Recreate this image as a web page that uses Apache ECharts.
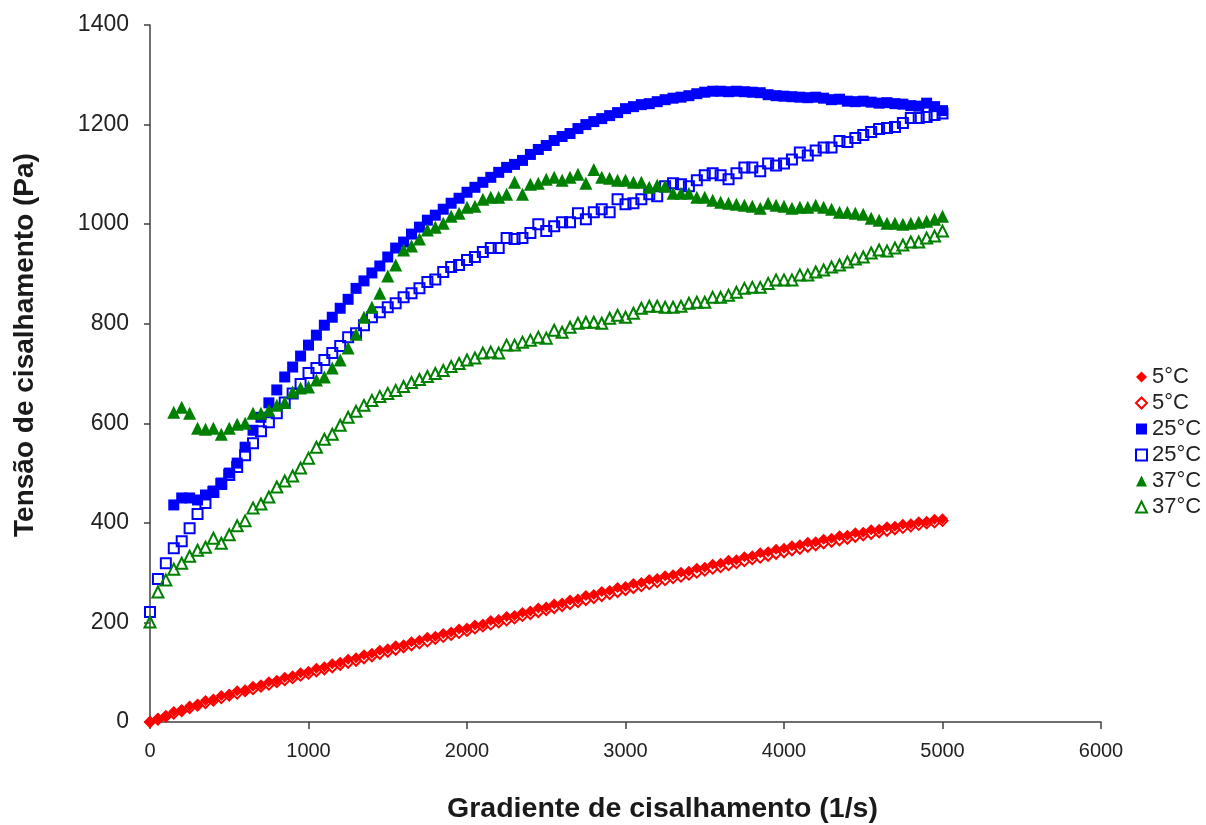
<!DOCTYPE html>
<html>
<head>
<meta charset="utf-8">
<script src="https://cdn.jsdelivr.net/npm/echarts@6/dist/echarts.min.js"></script>
<style>
  html, body { margin: 0; padding: 0; background: #ffffff; }
  #chart { width: 1206px; height: 825px; }
</style>
</head>
<body>
<div id="chart"></div>
<script>
// Shear rate grid (1/s), shared by every curve
const shearRate = [
  0, 50, 100, 150, 200, 250, 300, 350, 400, 450,
  500, 550, 600, 650, 700, 750, 800, 850, 900, 950,
  1000, 1050, 1100, 1150, 1200, 1250, 1300, 1350, 1400, 1450,
  1500, 1550, 1600, 1650, 1700, 1750, 1800, 1850, 1900, 1950,
  2000, 2050, 2100, 2150, 2200, 2250, 2300, 2350, 2400, 2450,
  2500, 2550, 2600, 2650, 2700, 2750, 2800, 2850, 2900, 2950,
  3000, 3050, 3100, 3150, 3200, 3250, 3300, 3350, 3400, 3450,
  3500, 3550, 3600, 3650, 3700, 3750, 3800, 3850, 3900, 3950,
  4000, 4050, 4100, 4150, 4200, 4250, 4300, 4350, 4400, 4450,
  4500, 4550, 4600, 4650, 4700, 4750, 4800, 4850, 4900, 4950,
  5000
];

// Shear stress (Pa) — 5 °C, filled markers
const stress5a = [
  0, 8, 13, 21, 25, 32, 36, 43, 46, 53,
  56, 63, 65, 72, 75, 81, 84, 90, 93, 99,
  102, 108, 111, 117, 120, 126, 129, 135, 138, 144,
  147, 153, 155, 161, 164, 170, 172, 178, 181, 187,
  189, 195, 197, 204, 206, 212, 214, 220, 223, 229,
  231, 237, 239, 245, 247, 254, 256, 262, 264, 270,
  272, 278, 280, 286, 288, 294, 296, 301, 303, 309,
  311, 317, 319, 325, 326, 332, 334, 340, 342, 347,
  349, 354, 356, 361, 362, 367, 369, 374, 375, 380,
  381, 386, 387, 392, 393, 397, 398, 402, 403, 407,
  408
];

// 5 °C, open markers
const stress5b = [
  0, 5, 11, 17, 22, 28, 33, 38, 43, 48,
  53, 57, 62, 66, 71, 75, 80, 84, 88, 93,
  97, 102, 106, 110, 115, 119, 123, 128, 132, 137,
  141, 145, 150, 154, 158, 162, 167, 171, 175, 179,
  183, 188, 192, 196, 200, 204, 208, 213, 217, 221,
  225, 229, 233, 237, 241, 245, 249, 253, 257, 261,
  265, 269, 273, 277, 281, 285, 289, 292, 296, 300,
  304, 308, 311, 315, 319, 323, 327, 330, 334, 338,
  341, 345, 348, 352, 355, 359, 362, 365, 368, 372,
  375, 378, 381, 384, 387, 390, 393, 396, 399, 401,
  404
];

// 25 °C, filled markers (no reading below 150 1/s)
const stress25a = [
  null, null, null, 436, 450, 450, 446, 456, 464, 480,
  500, 520, 552, 586, 612, 641, 667, 693, 713, 735,
  757, 777, 797, 813, 831, 849, 871, 886, 902, 916,
  934, 952, 964, 980, 994, 1008, 1018, 1030, 1042, 1052,
  1064, 1074, 1084, 1094, 1104, 1114, 1120, 1128, 1140, 1150,
  1158, 1168, 1176, 1182, 1192, 1200, 1206, 1212, 1218, 1224,
  1232, 1236, 1240, 1242, 1246, 1250, 1253, 1255, 1258, 1262,
  1265, 1267, 1267, 1266, 1267, 1266, 1265, 1264, 1260, 1258,
  1257, 1256, 1255, 1254, 1255, 1253, 1250, 1251, 1247, 1246,
  1247, 1245, 1243, 1244, 1242, 1241, 1238, 1237, 1243, 1236,
  1228
];

// 25 °C, open markers
const stress25b = [
  221, 287, 319, 349, 363, 389, 418, 440, 462, 478,
  496, 512, 536, 560, 584, 602, 620, 642, 660, 679,
  701, 711, 727, 741, 755, 773, 781, 797, 813, 823,
  833, 841, 853, 861, 871, 884, 889, 904, 914, 918,
  928, 934, 944, 952, 952, 972, 970, 972, 982, 1000,
  986, 996, 1004, 1004, 1022, 1010, 1024, 1030, 1024, 1050,
  1040, 1042, 1050, 1060, 1056, 1076, 1082, 1080, 1076, 1088,
  1098, 1102, 1098, 1090, 1102, 1114, 1114, 1106, 1122, 1118,
  1122, 1130, 1144, 1138, 1148, 1154, 1154, 1167, 1165, 1173,
  1179, 1185, 1191, 1193, 1195, 1203, 1213, 1213, 1215, 1219,
  1222
];

// 37 °C, filled markers (no reading below 150 1/s)
const stress37a = [
  null, null, null, 622, 632, 620, 590, 588, 590, 578,
  590, 598, 600, 620, 620, 626, 636, 642, 663, 671,
  673, 687, 693, 711, 727, 751, 779, 813, 833, 861,
  896, 918, 948, 956, 970, 988, 994, 1002, 1016, 1022,
  1034, 1036, 1050, 1054, 1054, 1060, 1084, 1060, 1080, 1082,
  1090, 1094, 1088, 1094, 1100, 1082, 1110, 1094, 1092, 1088,
  1088, 1084, 1084, 1074, 1078, 1076, 1062, 1062, 1062, 1054,
  1054, 1048, 1044, 1042, 1040, 1038, 1036, 1032, 1042, 1038,
  1036, 1032, 1034, 1034, 1038, 1034, 1030, 1024, 1024, 1022,
  1020, 1012, 1008, 1002, 1002, 1000, 1002, 1004, 1006, 1010,
  1016
];

// 37 °C, open markers
const stress37b = [
  201, 261, 285, 307, 319, 333, 345, 351, 369, 359,
  376, 394, 404, 430, 438, 452, 472, 484, 494, 510,
  530, 552, 568, 578, 596, 612, 624, 636, 646, 654,
  660, 666, 674, 682, 688, 694, 700, 706, 714, 720,
  727, 731, 741, 743, 741, 757, 757, 763, 767, 773,
  771, 787, 783, 793, 801, 803, 803, 801, 811, 817,
  813, 821, 831, 835, 835, 833, 833, 835, 841, 843,
  843, 853, 853, 857, 863, 871, 873, 873, 881, 888,
  888, 888, 898, 898, 904, 908, 914, 918, 924, 930,
  934, 942, 948, 946, 952, 958, 964, 964, 972, 976,
  986
];

// Axis ranges and ticks
const xTicks = [0, 1000, 2000, 3000, 4000, 5000, 6000];
const yTicks = [0, 200, 400, 600, 800, 1000, 1200, 1400];

// Legend labels (trailing space keeps the twin entries distinct)
const seriesNames = ['5°C', '5°C ', '25°C', '25°C ', '37°C', '37°C '];

const RED = '#ff0000', BLUE = '#0000ff', GREEN = '#008000';

function pairs(values) {
  const out = [];
  values.forEach((v, i) => { if (v !== null) out.push([shearRate[i], v]); });
  return out;
}

function filled(name, values, symbol, color, size) {
  return {
    name, type: 'scatter', data: pairs(values), symbol, symbolSize: size,
    itemStyle: { color: color, opacity: 1 },
    emphasis: { disabled: true }, animation: false
  };
}

// Outline-only markers: transparent interior, coloured edge
function hollow(name, values, symbol, color, size) {
  return {
    name, type: 'scatter', data: pairs(values), symbol, symbolSize: size,
    itemStyle: { color: 'rgba(255,255,255,0)', borderColor: color, borderWidth: 2, opacity: 1 },
    emphasis: { disabled: true }, animation: false
  };
}

const chart = echarts.init(document.getElementById('chart'), null, { renderer: 'canvas' });

const axisFont = 'Liberation Sans, Arial, sans-serif';
const plainNumber = v => String(v);

chart.setOption({
  backgroundColor: '#ffffff',
  animation: false,
  grid: { left: 150, right: 105, top: 25, bottom: 103, containLabel: false, outerBoundsMode: 'none' },
  xAxis: {
    type: 'value',
    min: xTicks[0], max: xTicks[xTicks.length - 1], interval: 1000,
    name: 'Gradiente de cisalhamento (1/s)',
    nameLocation: 'middle', nameGap: 73,
    nameTextStyle: { fontFamily: axisFont, fontWeight: 'bold', fontSize: 28.5, color: '#1a1a1a', padding: [0, 0, 0, 74] },
    axisLine: { onZero: false, lineStyle: { color: '#404040', width: 1.5 } },
    axisTick: { show: true, inside: false, length: 7, lineStyle: { color: '#404040', width: 1.5 } },
    axisLabel: { fontFamily: axisFont, fontSize: 20, color: '#222', margin: 19, formatter: plainNumber },
    splitLine: { show: false }
  },
  yAxis: {
    type: 'value',
    min: yTicks[0], max: yTicks[yTicks.length - 1], interval: 200,
    name: 'Tensão de cisalhamento (Pa)',
    nameLocation: 'middle', nameRotate: 90, nameGap: 111,
    nameTextStyle: { fontFamily: axisFont, fontWeight: 'bold', fontSize: 28, color: '#1a1a1a', padding: [0, 0, 0, 57] },
    axisLine: { show: true, onZero: false, lineStyle: { color: '#404040', width: 1.5 } },
    axisTick: { show: true, inside: false, length: 6, lineStyle: { color: '#404040', width: 1.5 } },
    axisLabel: { fontFamily: axisFont, fontSize: 23, color: '#222', margin: 21, formatter: plainNumber },
    splitLine: { show: false }
  },
  legend: {
    orient: 'vertical', left: 1130, top: 361,
    itemWidth: 11, itemHeight: 11, itemGap: 4,
    selectedMode: false,
    textStyle: { fontFamily: axisFont, fontSize: 22, color: '#222', lineHeight: 22 },
    data: seriesNames
  },
  series: [
    filled(seriesNames[0], stress5a, 'diamond', RED, 11),
    hollow(seriesNames[1], stress5b, 'diamond', RED, 10),
    filled(seriesNames[2], stress25a, 'rect', BLUE, 11),
    hollow(seriesNames[3], stress25b, 'rect', BLUE, 10),
    filled(seriesNames[4], stress37a, 'triangle', GREEN, 13),
    hollow(seriesNames[5], stress37b, 'triangle', GREEN, 11)
  ]
});
</script>
</body>
</html>
